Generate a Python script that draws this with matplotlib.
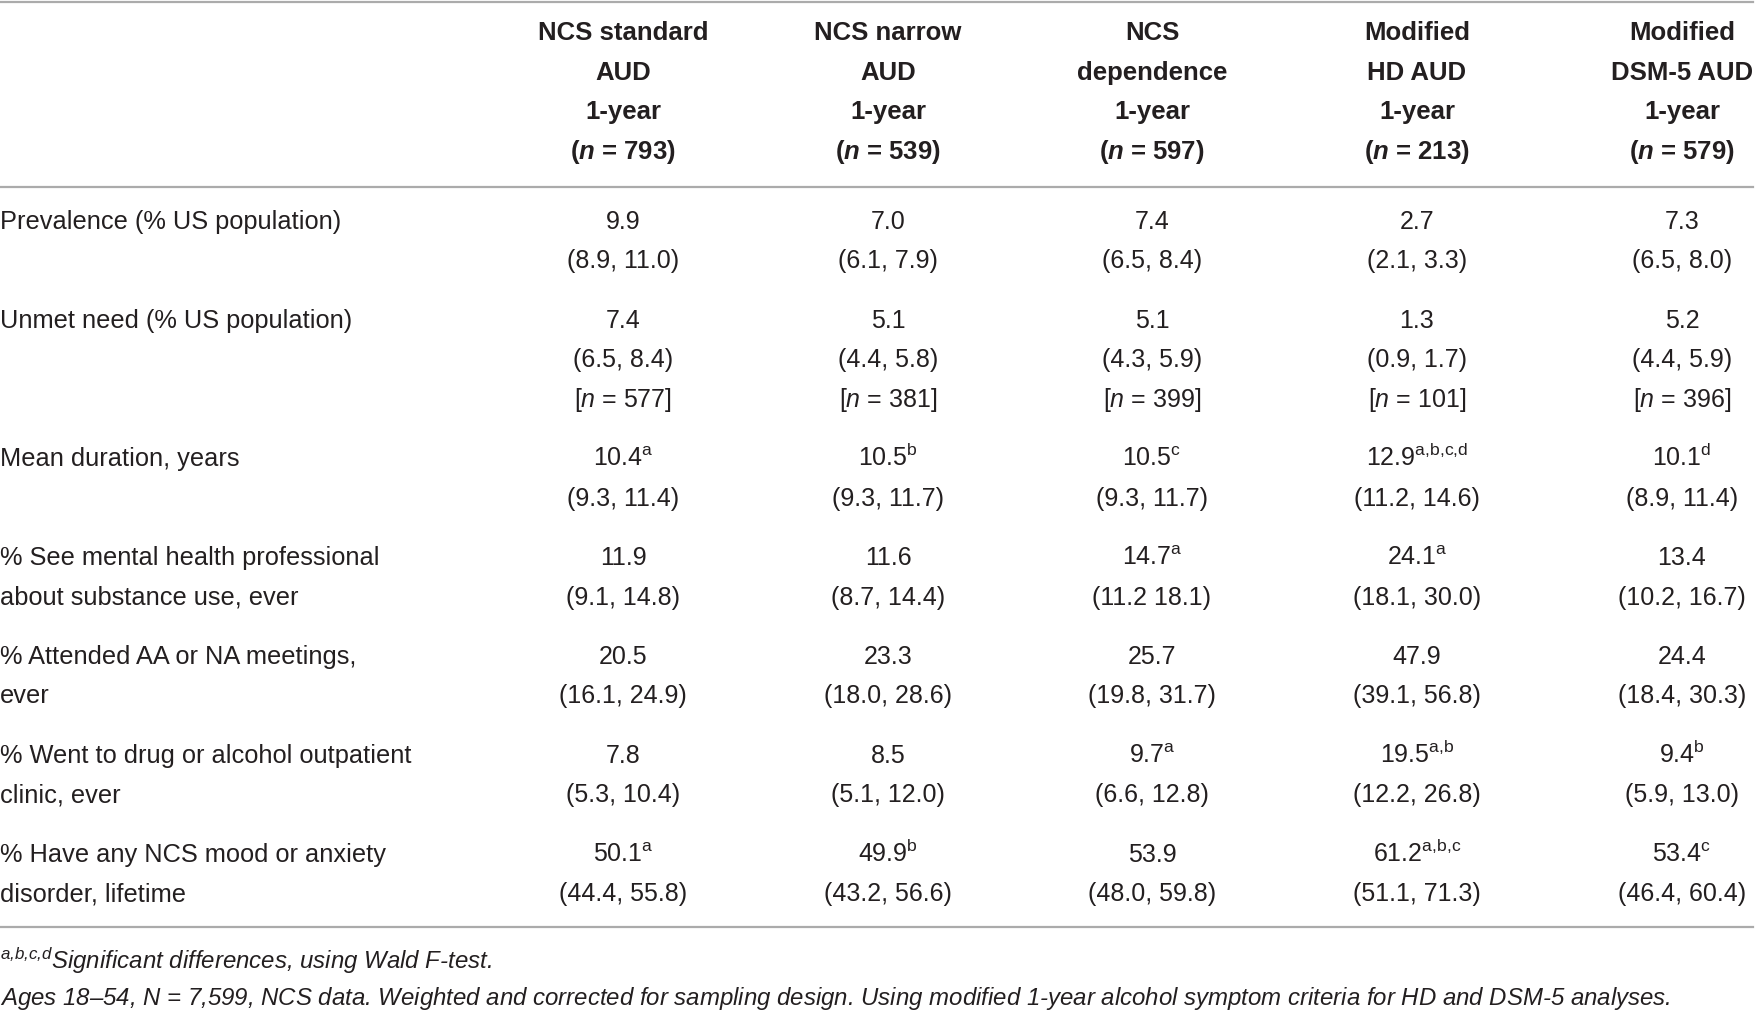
import matplotlib.pyplot as plt
from matplotlib.lines import Line2D

# table content
col_heads = [["NCS standard", "AUD"], ["NCS narrow", "AUD"], ["NCS", "dependence"],
             ["Modified", "HD AUD"], ["Modified", "DSM-5 AUD"]]
col_n = [793, 539, 597, 213, 579]

row_labels = [["Prevalence (% US population)"],
              ["Unmet need (% US population)"],
              ["Mean duration, years"],
              ["% See mental health professional", "about substance use, ever"],
              ["% Attended AA or NA meetings,", "ever"],
              ["% Went to drug or alcohol outpatient", "clinic, ever"],
              ["% Have any NCS mood or anxiety", "disorder, lifetime"]]

estimates = [[9.9, 7.0, 7.4, 2.7, 7.3],
             [7.4, 5.1, 5.1, 1.3, 5.2],
             [10.4, 10.5, 10.5, 12.9, 10.1],
             [11.9, 11.6, 14.7, 24.1, 13.4],
             [20.5, 23.3, 25.7, 47.9, 24.4],
             [7.8, 8.5, 9.7, 19.5, 9.4],
             [50.1, 49.9, 53.9, 61.2, 53.4]]

sups = [["", "", "", "", ""],
        ["", "", "", "", ""],
        ["a", "b", "c", "a,b,c,d", "d"],
        ["", "", "a", "a", ""],
        ["", "", "", "", ""],
        ["", "", "a", "a,b", "b"],
        ["a", "b", "", "a,b,c", "c"]]

cis = [["(8.9, 11.0)", "(6.1, 7.9)", "(6.5, 8.4)", "(2.1, 3.3)", "(6.5, 8.0)"],
       ["(6.5, 8.4)", "(4.4, 5.8)", "(4.3, 5.9)", "(0.9, 1.7)", "(4.4, 5.9)"],
       ["(9.3, 11.4)", "(9.3, 11.7)", "(9.3, 11.7)", "(11.2, 14.6)", "(8.9, 11.4)"],
       ["(9.1, 14.8)", "(8.7, 14.4)", "(11.2 18.1)", "(18.1, 30.0)", "(10.2, 16.7)"],
       ["(16.1, 24.9)", "(18.0, 28.6)", "(19.8, 31.7)", "(39.1, 56.8)", "(18.4, 30.3)"],
       ["(5.3, 10.4)", "(5.1, 12.0)", "(6.6, 12.8)", "(12.2, 26.8)", "(5.9, 13.0)"],
       ["(44.4, 55.8)", "(43.2, 56.6)", "(48.0, 59.8)", "(51.1, 71.3)", "(46.4, 60.4)"]]

unmet_n = [577, 381, 399, 101, 396]

footnotes = [r"${}^{\mathregular{a{,}b{,}c{,}d}}$Significant differences, using Wald F-test.",
             r"Ages 18–54, $\mathit{N}$ = 7,599, NCS data. Weighted and corrected for sampling design. "
             r"Using modified 1-year alcohol symptom criteria for HD and DSM-5 analyses."]

plt.rcParams['font.family'] = ['Liberation Sans', 'DejaVu Sans']
plt.rcParams['mathtext.fontset'] = 'custom'
plt.rcParams['mathtext.rm'] = 'Liberation Sans'
plt.rcParams['mathtext.it'] = 'Liberation Sans:italic'
plt.rcParams['mathtext.bf'] = 'Liberation Sans:bold'
plt.rcParams['mathtext.bfit'] = 'Liberation Sans:italic:bold'

H = 904.0  # layout measured on the reference (displayed height)
fig = plt.figure(figsize=(17.58, 10.13), dpi=100)
fs = 18
ink = "#231f20"
col_x = [623 / 1758, 888 / 1758, 1152 / 1758, 1417 / 1758, 1682 / 1758]
step = 35.3
gap = 53.0
base = 8.0


def fy(y):
    return 1 - (y + base) / H


def hline(y):
    fig.add_artist(Line2D([0, 0.997], [1 - y / H] * 2, color="#ababab", lw=1.6))


hline(2)
hline(167)
hline(827)

# header
for x, head, n in zip(col_x, col_heads, col_n):
    lines = head + ["1-year", r"($\mathbfit{n}$ = %d)" % n]
    for k, t in enumerate(lines):
        fig.text(x, fy(28 + k * step), t, ha="center", va="baseline",
                 fontsize=18.5, fontweight="bold", color=ink)

# body
y = 196.0
for i, lab in enumerate(row_labels):
    for k, t in enumerate(lab):
        fig.text(0.0, fy(y + k * step), t, ha="left", va="baseline",
                 fontsize=18.3, color=ink)
    for j, x in enumerate(col_x):
        s = "%.1f" % estimates[i][j]
        if sups[i][j]:
            s += r"$^{\mathregular{%s}}$" % sups[i][j].replace(",", "{,}")
        fig.text(x, fy(y), s, ha="center", va="baseline", fontsize=fs, color=ink)
        fig.text(x, fy(y + step), cis[i][j], ha="center", va="baseline",
                 fontsize=fs, color=ink)
        if i == 1:
            fig.text(x, fy(y + 2 * step), r"[$\mathit{n}$ = %d]" % unmet_n[j],
                     ha="center", va="baseline", fontsize=fs, color=ink)
    nlines = max(len(lab), 3 if i == 1 else 2)
    y += (nlines - 1) * step + gap

fig.text(0.0, fy(857), footnotes[0], ha="left", va="baseline", fontsize=17.3,
         style="italic", color=ink)
fig.text(0.0, fy(889), footnotes[1], ha="left", va="baseline", fontsize=17.3,
         style="italic", color=ink)

fig.savefig("out.png", dpi=100)
